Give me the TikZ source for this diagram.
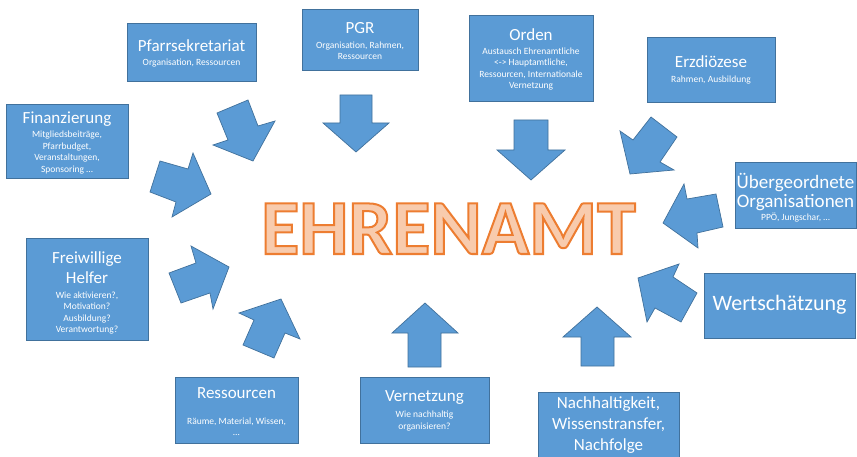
\documentclass[tikz,border=0pt]{standalone}
\usepackage{fontspec}
\setmainfont{Carlito}
\definecolor{boxfill}{HTML}{5B9BD5}
\definecolor{boxline}{HTML}{41719C}
\definecolor{ehfill}{HTML}{F8CBAD}
\definecolor{ehline}{HTML}{ED7D31}
\tikzset{
  box/.style={draw=boxline, fill=boxfill, line width=0.8pt, inner sep=0pt},
  ttl/.style={text=white, font=\fontsize{17}{20}\selectfont, align=center, inner sep=0pt},
  subtxt/.style={text=white, font=\fontsize{9.5}{11.4}\selectfont, align=center, inner sep=0pt},
  blockarrow/.style={draw=boxline, fill=boxfill, line width=0.7pt, line join=miter}
}
\begin{document}
\begin{tikzpicture}[x=1pt,y=-1pt]
\clip (0,0) rectangle (857,457);
\fill[white] (0,0) rectangle (857,457);

% boxes
\node[box, minimum width=129pt, minimum height=58pt] (pfarr) at (191.5,52) {};
\node[ttl] (pfarrT) at (191.5,46) {Pfarrsekretariat};
\node[subtxt] (pfarrS) at (191.5,63) {Organisation, Ressourcen};

\node[box, minimum width=116pt, minimum height=61pt] (pgr) at (360,39.5) {};
\node[ttl] (pgrT) at (360,28) {PGR};
\node[subtxt] (pgrS) at (360,50.5) {Organisation, Rahmen,\\Ressourcen};

\node[box, minimum width=124pt, minimum height=86pt] (orden) at (531,58) {};
\node[ttl] (ordenT) at (531,35) {Orden};
\node[subtxt] (ordenS) at (531,69) {Austausch Ehrenamtliche\\<-> Hauptamtliche,\\Ressourcen, Internationale\\Vernetzung};

\node[box, minimum width=128pt, minimum height=65pt] (erz) at (711,69.5) {};
\node[ttl] (erzT) at (711,62) {Erzdiözese};
\node[subtxt] (erzS) at (711,80) {Rahmen, Ausbildung};

\node[box, minimum width=122pt, minimum height=74pt] (fin) at (67,141) {};
\node[ttl] (finT) at (67,119) {Finanzierung};
\node[subtxt] (finS) at (67,152.5) {Mitgliedsbeiträge,\\Pfarrbudget,\\Veranstaltungen,\\Sponsoring …};

\node[box, minimum width=122pt, minimum height=102pt] (frei) at (87,289) {};
\node[ttl] (freiT) at (87,268) {Freiwillige\\Helfer};
\node[subtxt] (freiS) at (87,313) {Wie aktivieren?,\\Motivation?\\Ausbildung?\\Verantwortung?};

\node[box, minimum width=121pt, minimum height=66pt] (ueber) at (795.5,195) {};
\node[ttl, font=\fontsize{19}{19}\selectfont] (ueberT) at (795.5,192) {Übergeordnete\\Organisationen};
\node[subtxt] (ueberS) at (795.5,218) {PPÖ, Jungschar, …};

\node[box, minimum width=151pt, minimum height=65pt] (wert) at (779.5,305.5) {};
\node[ttl, font=\fontsize{22}{24}\selectfont] (wertT) at (779.5,305) {Wertschätzung};

\node[box, minimum width=123pt, minimum height=66pt] (ress) at (236.5,410) {};
\node[ttl] (ressT) at (236.5,393) {Ressourcen};
\node[subtxt] (ressS) at (236.5,427) {Räume, Material, Wissen,\\…};

\node[box, minimum width=129pt, minimum height=66pt] (vern) at (424.5,410) {};
\node[ttl] (vernT) at (424.5,398) {Vernetzung};
\node[subtxt] (vernS) at (424.5,421) {Wie nachhaltig\\organisieren?};

\node[box, minimum width=141pt, minimum height=74pt] (nach) at (608.5,429) {};
\node[ttl, font=\fontsize{17}{21}\selectfont] (nachT) at (608.5,425) {Nachhaltigkeit,\\Wissenstransfer,\\Nachfolge};

% block arrows
\path[blockarrow] (217,113) -- (248,100) -- (258,126) -- (275,121) -- (253,161) -- (213,145) -- (228,140) -- cycle;
\path[blockarrow] (160,161) -- (188,169) -- (193,153) -- (211,194) -- (172,217) -- (176,202) -- (150,192) -- cycle;
\path[blockarrow] (169,273) -- (196,263) -- (191,246) -- (229,267) -- (213,309) -- (210,293) -- (181,303) -- cycle;
\path[blockarrow] (243,345) -- (254,320) -- (239,313) -- (281,299) -- (300,339) -- (285,333) -- (274,358) -- cycle;
\path[blockarrow] (340,95) -- (372,95) -- (372,123) -- (389,123) -- (356,152) -- (323,123) -- (340,123) -- cycle;
\path[blockarrow] (514,120) -- (548,120) -- (548,150) -- (565,150) -- (531,180) -- (497,150) -- (514,150) -- cycle;
\path[blockarrow] (408,367) -- (441,367) -- (441,333) -- (458,333) -- (425,303) -- (392,333) -- (408,333) -- cycle;
\path[blockarrow] (581,366) -- (614,366) -- (614,337) -- (631,337) -- (597,307) -- (563,337) -- (581,337) -- cycle;
\path[blockarrow] (697,293) -- (673,277) -- (679,264) -- (638,278) -- (647,322) -- (655,308) -- (681,322) -- cycle;
\path[blockarrow] (716,194) -- (687,199) -- (684,184) -- (663,223) -- (698,248) -- (697,233) -- (723,227) -- cycle;
\path[blockarrow] (651,117) -- (633,140) -- (620,131) -- (630,174) -- (674,170) -- (660,162) -- (677,137) -- cycle;

% central word
\node[anchor=base, inner sep=0pt, text=ehfill, font=\bfseries\fontsize{78}{80}\selectfont] (ehren) at (448.5,254)
  {\special{pdf:literal direct 2 Tr 2 w 0.929 0.490 0.192 RG}EHRENAMT\special{pdf:literal direct 0 Tr}};
\end{tikzpicture}
\end{document}
